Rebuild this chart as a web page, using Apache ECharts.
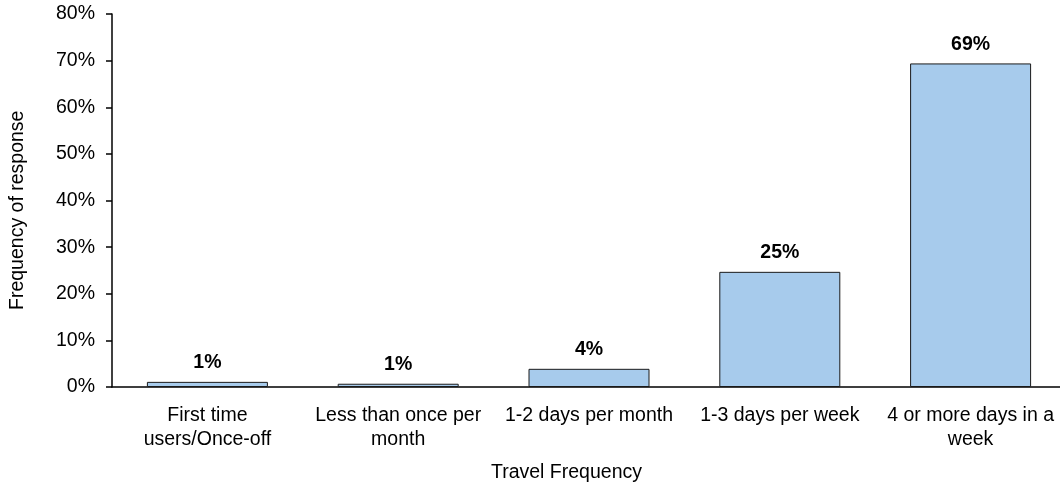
<!DOCTYPE html>
<html>
<head>
<meta charset="utf-8">
<script src="https://cdn.jsdelivr.net/npm/echarts@6/dist/echarts.min.js"></script>
<style>
  html, body { margin: 0; padding: 0; background: #fff; overflow: hidden; }
  /* the plot area runs a few pixels past the visible window on the right */
  #chart { width: 1066px; height: 486px; }
</style>
</head>
<body>
<div id="chart"></div>
<script>
// Travel frequency categories (line breaks as in the axis labels)
const categories = [
  'First time\nusers/Once-off',
  'Less than once per\nmonth',
  '1-2 days per month',
  '1-3 days per week',
  '4 or more days in a\nweek'
];
// Share of responses, in percent
const shares = [1.1, 0.7, 3.9, 24.7, 69.4];
// Y axis tick settings
const yMin = 0, yMax = 80, yStep = 10;

const FONT = '"Liberation Sans", Arial, Helvetica, sans-serif';
const FS = 19.5;
const chart = echarts.init(document.getElementById('chart'), null, { renderer: 'canvas' });

chart.setOption({
  animation: false,
  backgroundColor: '#ffffff',
  textStyle: { fontFamily: FONT },
  grid: { left: 112, right: 0, top: 14, height: 373, containLabel: false },
  xAxis: {
    type: 'category',
    data: categories,
    axisLine: { show: true, lineStyle: { color: '#000', width: 1.5 } },
    axisTick: { show: false },
    axisLabel: {
      interval: 0, margin: 17, fontSize: FS, lineHeight: 24,
      color: '#000', fontFamily: FONT, align: 'center'
    },
    splitLine: { show: false }
  },
  yAxis: {
    type: 'value',
    min: yMin, max: yMax, interval: yStep,
    axisLine: { show: true, lineStyle: { color: '#000', width: 1.5 } },
    axisTick: { show: true, inside: false, length: 6, lineStyle: { color: '#000', width: 1.5 } },
    axisLabel: { margin: 17, fontSize: FS, color: '#000', fontFamily: FONT, formatter: v => v + '%' },
    splitLine: { show: false }
  },
  series: [{
    type: 'bar',
    data: shares,
    barWidth: 121,
    itemStyle: { color: '#a7cbec', borderColor: '#1a1a1a', borderWidth: 1 },
    label: {
      show: true, position: 'top', distance: 9,
      fontSize: FS, fontWeight: 'bold', color: '#000', fontFamily: FONT,
      formatter: p => Math.round(p.value) + '%'
    }
  }],
  graphic: [
    {
      type: 'text', left: 491, top: 463,
      style: { text: 'Travel Frequency', fontSize: FS, fontFamily: FONT, fill: '#000' }
    },
    {
      type: 'text', x: 8, y: 310, rotation: Math.PI / 2,
      style: { text: 'Frequency of response', fontSize: FS, fontFamily: FONT, fill: '#000',
               textAlign: 'left', textVerticalAlign: 'top' }
    }
  ]
});
</script>
</body>
</html>
